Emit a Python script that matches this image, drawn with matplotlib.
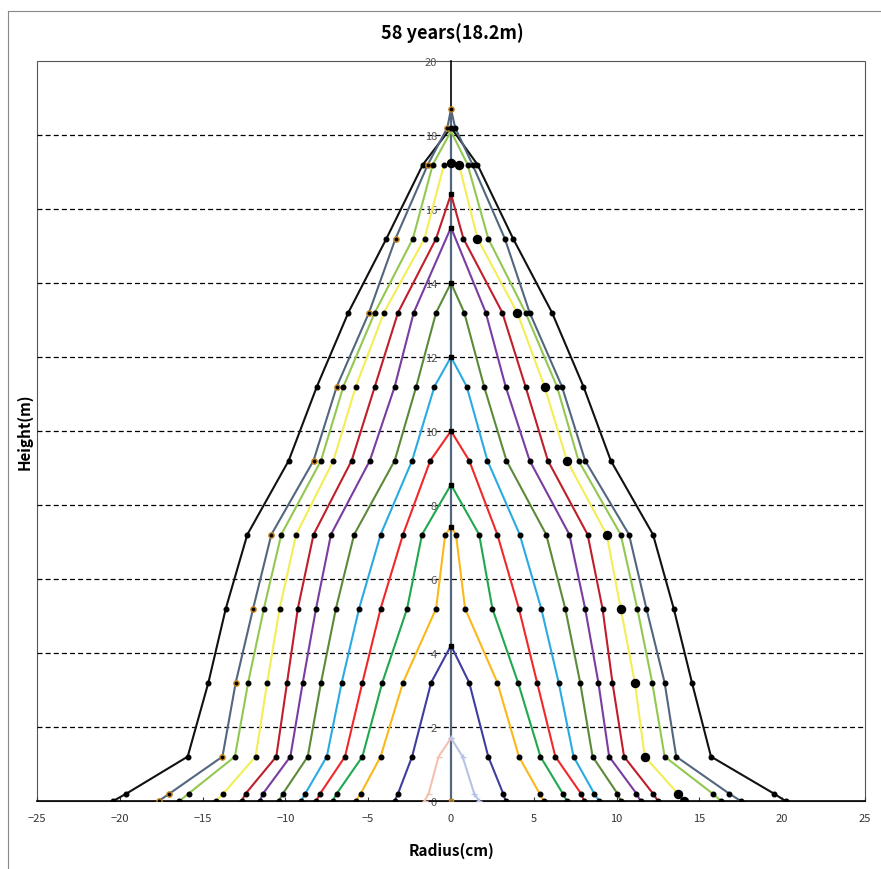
import numpy as np
import matplotlib
matplotlib.use("Agg")
import matplotlib.pyplot as plt
from matplotlib.lines import Line2D
from matplotlib.patches import Rectangle

plt.rcParams['font.family'] = ['Noto Sans CJK KR', 'DejaVu Sans']

# disk heights (m)
heights = [0, 0.2, 1.2, 3.2, 5.2, 7.2, 9.2, 11.2, 13.2, 15.2, 17.2, 18.2]

# radius (cm) left / right of the pith at each disk, and tree height for each age
black_l = [-20.4, -19.6, -15.9, -14.65, -13.6, -12.3, -9.8, -8.1, -6.2, -3.9, -1.7]
black_r = [20.2, 19.5, 15.7, 14.55, 13.45, 12.2, 9.65, 8.0, 6.1, 3.75, 1.6]
slate_l = [-17.65, -17.0, -13.8, -13.0, -11.95, -10.85, -8.3, -6.9, -4.95, -3.35, -1.4, -0.22]
slate_r = [17.5, 16.8, 13.6, 12.9, 11.8, 10.75, 8.1, 6.7, 4.75, 3.25, 1.3, 0.25]
lgreen_l = [-16.4, -15.85, -13.05, -12.25, -11.3, -10.25, -7.85, -6.5, -4.6, -2.3, -1.1]
lgreen_r = [16.3, 15.8, 12.9, 12.15, 11.25, 10.25, 7.7, 6.4, 4.5, 2.25, 1.0]
yellow_l = [-14.2, -13.75, -11.8, -11.1, -10.35, -9.35, -7.1, -5.75, -4.05, -1.6, -0.42]
yellow_r = [14.1, 13.7, 11.7, 11.1, 10.25, 9.4, 7.0, 5.65, 4.0, 1.6, 0.48]
dred_l = [-12.65, -12.4, -10.55, -9.9, -9.25, -8.3, -6.0, -4.6, -3.2, -0.9]
dred_r = [12.5, 12.2, 10.45, 9.75, 9.15, 8.25, 5.85, 4.5, 3.1, 0.75]
purple_l = [-11.55, -11.35, -9.7, -8.95, -8.15, -7.25, -4.9, -3.4, -2.25]
purple_r = [11.45, 11.2, 9.55, 8.9, 8.1, 7.15, 4.75, 3.3, 2.1]
olive_l = [-10.4, -10.15, -8.65, -7.85, -6.95, -5.85, -3.4, -2.1, -0.9]
olive_r = [10.25, 10.05, 8.55, 7.8, 6.9, 5.75, 3.35, 2.0, 0.8]
lblue_l = [-9.05, -8.8, -7.5, -6.6, -5.55, -4.25, -2.35, -1.0]
lblue_r = [8.95, 8.65, 7.4, 6.5, 5.45, 4.15, 2.2, 0.95]
red_l = [-8.15, -7.9, -6.4, -5.35, -4.25, -2.9, -1.25]
red_r = [8.05, 7.85, 6.3, 5.2, 4.1, 2.8, 1.1]
green_l = [-7.15, -6.9, -5.35, -4.15, -2.65, -1.75]
green_r = [7.0, 6.75, 5.4, 4.05, 2.5, 1.7]
orange_l = [-5.75, -5.45, -4.25, -2.9, -0.9, -0.35]
orange_r = [5.6, 5.35, 4.1, 2.8, 0.85, 0.3]
indigo_l = [-3.4, -3.2, -2.35, -1.2]
indigo_r = [3.3, 3.15, 2.25, 1.1]
pink_l = [-1.6, -1.35, -0.75]
lav_r = [1.7, 1.4, 0.7]

tops = {'black': 18.2, 'slate': 18.7, 'lgreen': 18.1, 'yellow': 17.25, 'dred': 16.4,
        'purple': 15.5, 'olive': 14.0, 'lblue': 12.0, 'red': 10.0, 'green': 8.55,
        'orange': 7.4, 'indigo': 4.2, 'young': 1.7}

series = [
    ('black', black_l, black_r, '#111111'),
    ('slate', slate_l, slate_r, '#52667F'),
    ('lgreen', lgreen_l, lgreen_r, '#92C850'),
    ('yellow', yellow_l, yellow_r, '#F3EE55'),
    ('dred', dred_l, dred_r, '#BF1E2A'),
    ('purple', purple_l, purple_r, '#7A3CA0'),
    ('olive', olive_l, olive_r, '#5B8A38'),
    ('lblue', lblue_l, lblue_r, '#29ABE2'),
    ('red', red_l, red_r, '#F0282A'),
    ('green', green_l, green_r, '#1FA84E'),
    ('orange', orange_l, orange_r, '#FBB81A'),
    ('indigo', indigo_l, indigo_r, '#3E3E9E'),
]
orange_edge = '#C8861E'
ms = 3.3

fig = plt.figure(figsize=(8.81, 8.70), dpi=100)
ax = fig.add_axes([37/881, 1 - 802/870, 828/881, 740/870])

# pith line
ax.plot([0, 0], [0, tops['slate']], color='#52667F', lw=1.6, zorder=2)

for name, xl, xr, col in series:
    top = tops[name]
    yl = heights[:len(xl)]
    yr = heights[:len(xr)]
    xs = list(xl) + [0] + list(xr)[::-1]
    ys = list(yl) + [top] + list(yr)[::-1]
    ax.plot(xs, ys, color=col, lw=1.5, zorder=3, solid_joinstyle='round')
    if name == 'slate':
        ax.plot(xl, yl, 'o', ms=ms + 0.5, mfc='black', mec=orange_edge, mew=1.0, zorder=5)
    else:
        ax.plot(xl, yl, 'o', ms=ms, color='black', zorder=5)
    if name == 'yellow':
        ax.plot(xr, yr, 'o', ms=5.8, color='black', zorder=5)
    else:
        ax.plot(xr, yr, 'o', ms=ms, color='black', zorder=5)
    if name == 'slate':
        ax.plot([0], [top], 'o', ms=ms + 0.5, mfc='black', mec=orange_edge, mew=1.0, zorder=6)
    elif name == 'yellow':
        ax.plot([0], [top], 'o', ms=5.8, color='black', zorder=6)
    elif name == 'black':
        ax.plot([0], [top], 'o', ms=ms, color='black', zorder=6)
    elif name != 'lgreen':
        ax.plot([0], [top], 's', ms=ms, color='black', zorder=6)

# youngest profile drawn as two halves
yp = heights[:len(pink_l)]
ax.plot(list(pink_l) + [0], yp + [tops['young']], color='#F4C0B0', lw=1.5,
        marker='_', ms=5, zorder=3)
ax.plot([0] + list(lav_r)[::-1], [tops['young']] + yp[::-1], color='#B5C3E6', lw=1.5,
        marker='+', ms=5, zorder=3)
ax.plot([0], [0], 's', ms=ms, mfc='#8B6A2A', mec=orange_edge, zorder=6)

ax.set_xlim(-25, 25)
ax.set_ylim(0, 20)
ax.set_xticks(np.arange(-25, 26, 5))
ax.set_yticks(np.arange(0, 21, 2))
for y in range(2, 20, 2):
    ax.axhline(y, color='black', lw=0.9, ls=(0, (4, 2.5)), zorder=1)

ax.spines['left'].set_position(('data', 0))
ax.spines['left'].set_color('black')
ax.spines['left'].set_linewidth(1.2)
ax.spines['left'].set_zorder(1)
ax.spines['bottom'].set_color('black')
ax.spines['bottom'].set_linewidth(1.2)
ax.spines['top'].set_visible(False)
ax.spines['right'].set_visible(False)
ax.add_patch(Rectangle((0, 0), 1, 1, transform=ax.transAxes, fill=False,
                       ec='#555555', lw=0.8, zorder=0, clip_on=False))

ax.tick_params(axis='x', direction='in', length=3, pad=9, labelsize=8, colors='#333333')
ax.tick_params(axis='y', length=0, pad=10, labelsize=8, colors='#555555')

fig.text(452/881, 1 - 851/870, 'Radius(cm)', ha='center', va='center',
         fontsize=11, fontweight='bold')
fig.text(25/881, 1 - 432/870, 'Height(m)', ha='center', va='center',
         rotation=90, fontsize=11, fontweight='bold')
fig.text(452/881, 1 - 33/870, '58 years(18.2m)', ha='center', va='center',
         fontsize=13, fontweight='bold')

# chart area border
fig.add_artist(Line2D([8/881, 8/881], [0, 1 - 12/870], color='#888888', lw=0.8))
fig.add_artist(Line2D([8/881, 1], [1 - 12/870, 1 - 12/870], color='#888888', lw=0.8))

fig.savefig('out.png', dpi=100)
